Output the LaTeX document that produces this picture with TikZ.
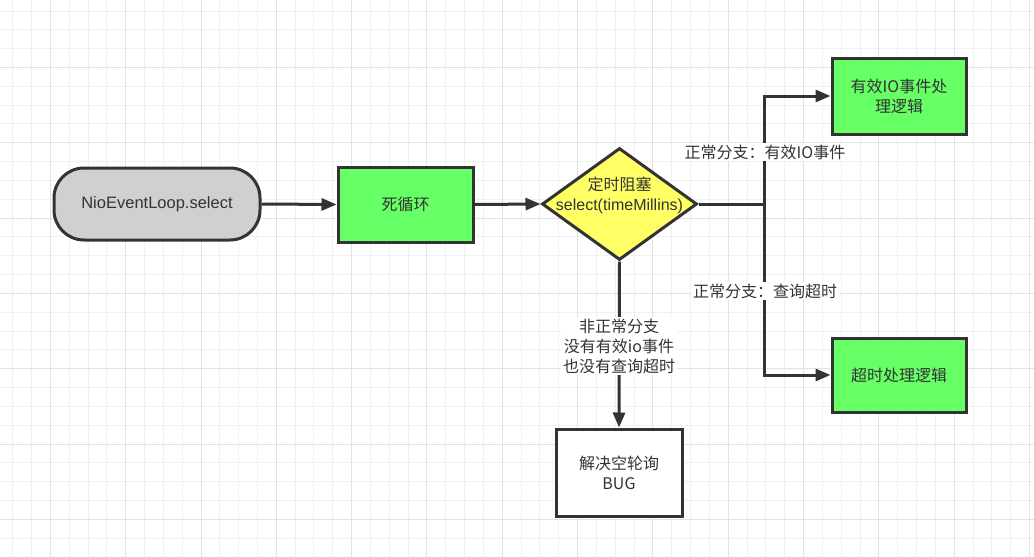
\documentclass[tikz,border=0pt]{standalone}
\usepackage{fontspec}
\setmainfont{Liberation Sans}
\newfontfamily\cjk{Noto Sans CJK SC}
\usetikzlibrary{arrows.meta,shapes.geometric}
\definecolor{ink}{HTML}{333333}
\definecolor{gridminor}{HTML}{F0F0F0}
\definecolor{gridmajor}{HTML}{E2E2E2}
\definecolor{okgreen}{HTML}{66FF66}
\definecolor{decyellow}{HTML}{FFFF66}
\definecolor{startgray}{HTML}{D0D0D0}
\tikzset{
  procbox/.style={draw=ink, line width=3pt, text=ink, align=center, inner sep=0pt,
    font=\cjk\fontsize{16}{20}\selectfont},
  greenbox/.style={procbox, fill=okgreen},
  conn/.style={draw=ink, line width=3pt},
  arr/.style={conn, -{Triangle[length=15pt,width=12pt]}},
  lbl/.style={fill=white, text=ink, align=center, inner sep=2pt,
    font=\cjk\fontsize{16}{20}\selectfont},
}
\begin{document}
\begin{tikzpicture}[x=1pt,y=-1pt]
\useasboundingbox (0,0) rectangle (1034,557);
\fill[white] (0,0) rectangle (1034,557);
% grid
\foreach \i in {0,...,54} \draw[gridminor, line width=1pt] ({12.7+18.83*\i},0) -- ({12.7+18.83*\i},557);
\foreach \j in {0,...,28} \draw[gridminor, line width=1pt] (0,{11+18.83*\j}) -- (1034,{11+18.83*\j});
\foreach \i in {0,...,13} \draw[gridmajor, line width=1pt] ({50.36+75.32*\i},0) -- ({50.36+75.32*\i},557);
\foreach \j in {0,...,6} \draw[gridmajor, line width=1pt] (0,{67.5+75.32*\j}) -- (1034,{67.5+75.32*\j});

% nodes
\node[procbox, fill=startgray, rounded corners=30pt, minimum width=206pt, minimum height=72pt,
  font=\fontsize{16.5}{20}\selectfont] (start) at (157,204) {NioEventLoop.select};
\node[greenbox, minimum width=135pt, minimum height=75pt] (loop) at (405.5,204.5) {死循环};
\node[diamond, draw=ink, line width=3pt, fill=decyellow, inner sep=0pt,
  minimum width=155pt, minimum height=112pt] (dec) at (619.5,204) {};
\node[text=ink, align=center, inner sep=0pt, font=\fontsize{16}{20}\selectfont] (dectext) at (619.5,195)
  {{\cjk 定时阻塞}\\select(timeMillins)};
\node[greenbox, minimum width=134pt, minimum height=76pt] (io) at (899,96) {有效IO事件处\\理逻辑};
\node[greenbox, minimum width=134pt, minimum height=74pt] (tmo) at (899,375) {超时处理逻辑};
\node[procbox, fill=white, minimum width=126pt, minimum height=87pt] (bug) at (619,472.5) {解决空轮询\\BUG};
\coordinate (j) at (764,204);

% connectors
\draw[arr] (start.east) -- (loop.west);
\draw[arr] (loop.east) -- (dec.west);
\draw[conn] (dec.east) -- (j);
\draw[arr] (j) |- (io.west);
\draw[arr] (j) |- (tmo.west);
\draw[arr] (dec.south) -- (bug.north);

% labels
\node[lbl] (l1) at (765,152) {正常分支：有效IO事件};
\node[lbl] (l2) at (765,291) {正常分支：查询超时};
\node[lbl] (l3) at (619,346) {非正常分支\\没有有效io事件\\也没有查询超时};
\end{tikzpicture}
\end{document}
